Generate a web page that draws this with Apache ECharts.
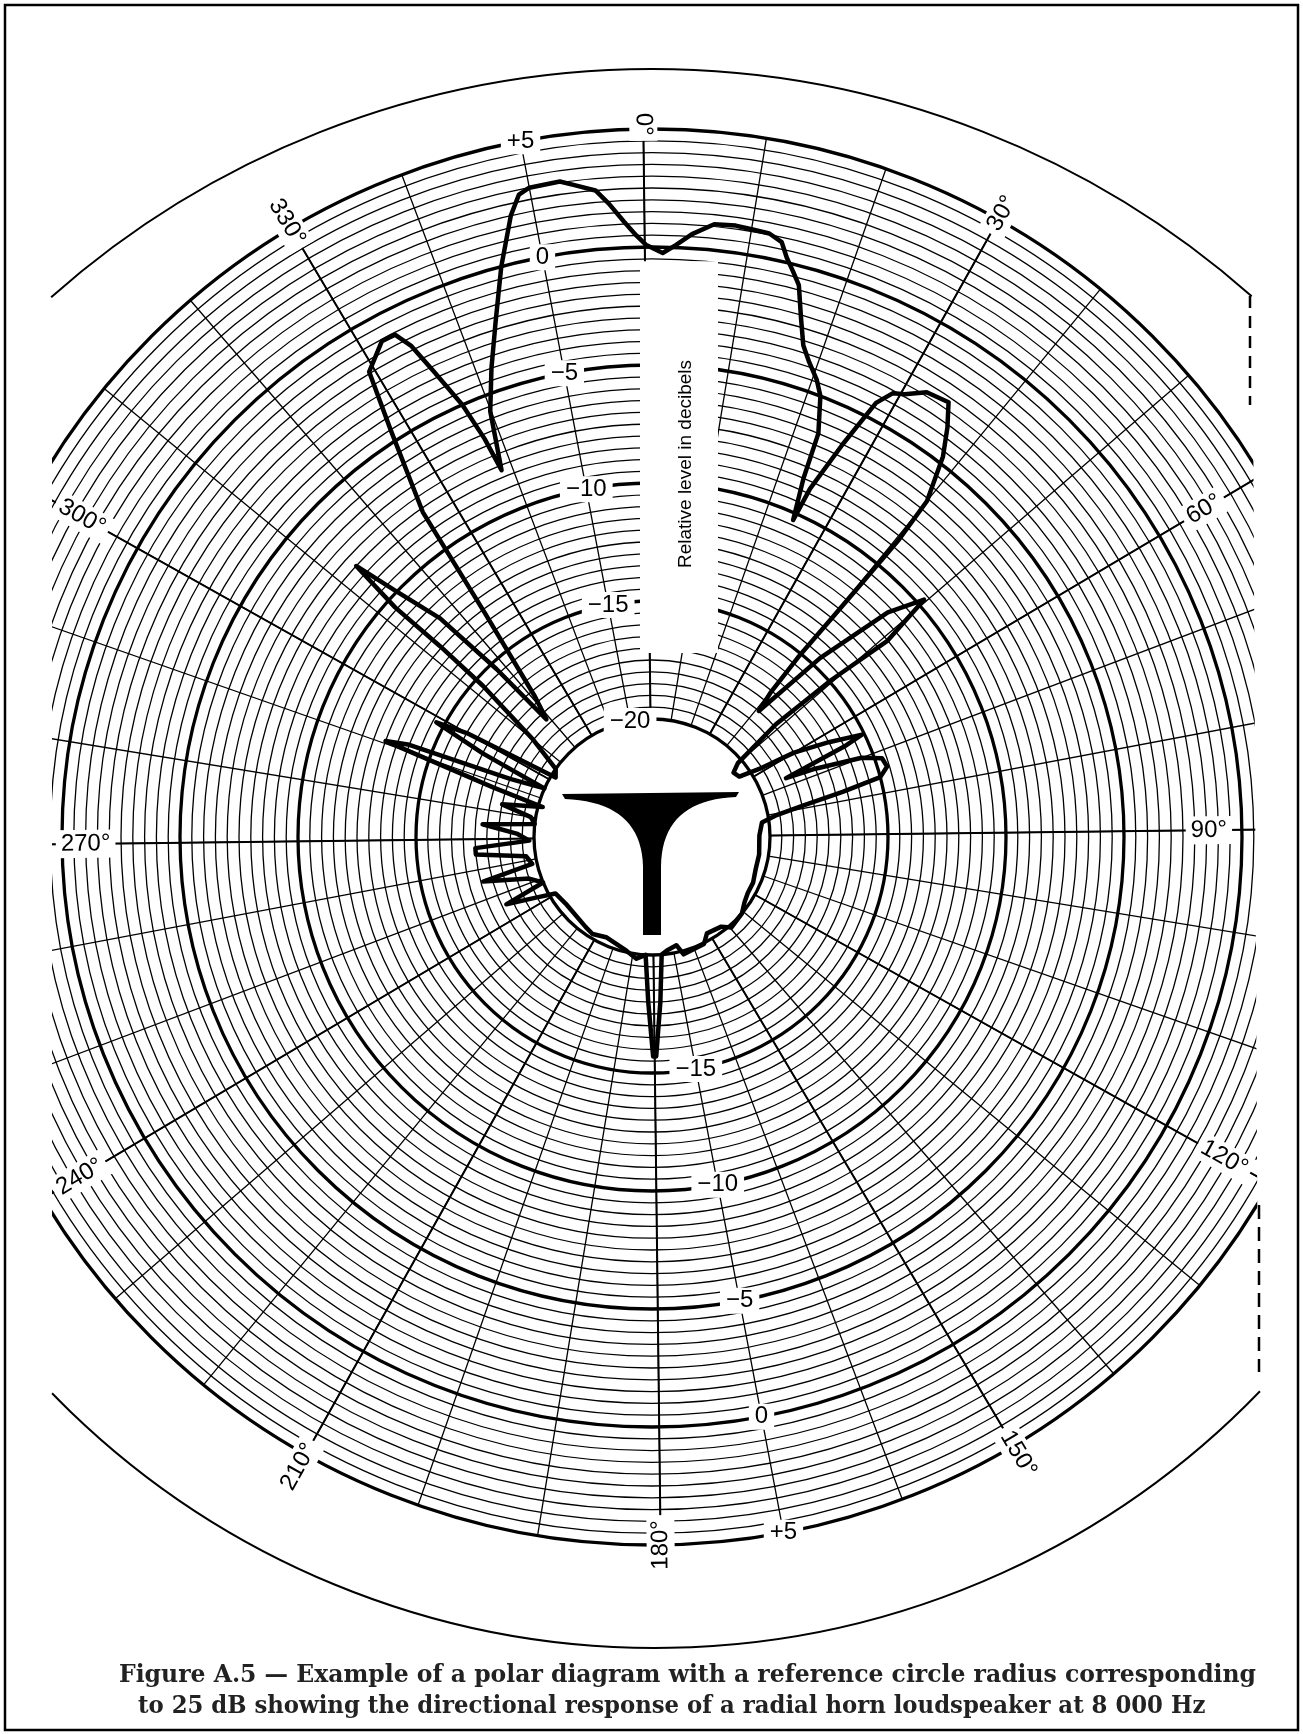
<!DOCTYPE html>
<html>
<head>
<meta charset="utf-8">
<script src="https://cdn.jsdelivr.net/npm/echarts@6/dist/echarts.min.js"></script>
<style>
  html, body { margin: 0; padding: 0; background: #fff; }
  #chart { width: 1303px; height: 1734px; }
</style>
</head>
<body>
<div id="chart"></div>
<script>
// ---- polar paper layout ----
const CX = 652, CY = 837;          // centre of the polar paper
const R_OUT = 708;                 // radius of the +5 dB ring
const DB_MIN = -25, DB_MAX = 5;    // the centre corresponds to -25 dB (reference circle = 25 dB)
const DB_GRID_MIN = -20;           // innermost printed ring
const PX_PER_DB = R_OUT / (DB_MAX - DB_MIN);
const R_IN = (DB_GRID_MIN - DB_MIN) * PX_PER_DB;
const ROT = 0.7;                   // sheet is turned slightly anticlockwise
const FONT = '"Liberation Sans", Arial, sans-serif';

// ---- measured directional response, 8 000 Hz ----
// angle in degrees (clockwise from 0°), relative level in dB
const responseAngle = [
  338.4, 339.9, 341.8, 343.8, 345.9, 347.9, 349.0, 350.0, 352.7, 354.0,
  355.7, 356.8, 358.1, 359.2, 0.1, 1.75, 3.0, 4.5, 6.5, 8.5,
  9.9, 11.7, 13.0, 13.8, 14.7, 15.6, 16.7, 17.8, 19.0, 20.5,
  21.6, 23.1, 23.6, 24.7, 25.1, 26.6, 28.0, 29.2, 30.4, 32.4,
  35.0, 36.5, 38.1, 40.0, 40.4, 40.3, 40.1, 39.8, 40.1, 41.0,
  43.9, 47.1, 49.6, 50.9, 49.5, 48.4, 50.0, 52.4, 56.0, 58.5,
  60.0, 62.5, 64.7, 65.5, 67.0, 68.0, 70.0, 71.8, 74.0, 76.0,
  77.4, 79.0, 80.9, 83.2, 90, 100, 108, 115, 121, 126,
  131, 139.5, 143, 151, 154.8, 165.6, 168, 173.2, 176, 177.8,
  179.6, 180.4, 182.0, 183.8, 188, 193.4, 205.3, 212.2, 217, 233.1,
  240.4, 243, 245.9, 248, 252, 255.9, 258, 262, 265, 267.1,
  269, 272, 275, 277, 280, 283, 286, 288, 290.5, 291.5,
  293, 295, 297, 298.7, 300, 302.4, 306, 310, 312.5, 312.7,
  312.5, 313.2, 314.5, 316.6, 317.9, 318.8, 320.9, 324, 325.5, 328,
  329.4, 332.1, 333.6, 334.6, 335.6, 337, 337.9, 338.4
];
const responseLevel = [
  -8.2, -5.7, -4.0, -2.2, 0.0, 2.0, 2.8, 3.0, 3.05, 2.8,
  2.5, 1.9, 1.1, 0.5, 0.1, -0.25, 0.1, 0.6, 1.1, 1.15,
  1.1, 1.05, 0.8, 0.2, -0.3, -0.8, -2.1, -3.2, -3.8, -4.4,
  -5.0, -6.5, -8.5, -10.3, -8.8, -6.5, -4.3, -3.6, -3.4, -2.85,
  -2.7, -3.6, -4.7, -6.6, -8.6, -10.8, -13.0, -15.2, -17.1, -18.0,
  -14.6, -11.2, -9.7, -12.0, -14.9, -17.9, -20.2, -20.6, -20.5, -19.5,
  -18.0, -16.5, -15.1, -16.0, -18.8, -17.5, -15.5, -14.7, -14.6, -15.0,
  -16.7, -18.5, -19.7, -20.3, -20.45, -20.4, -20.4, -20.3, -20.3, -20.2,
  -20.0, -19.9, -20.2, -20.3, -19.96, -19.85, -20.3, -20.15, -20.0, -18.0,
  -15.7, -15.7, -18.0, -20.0, -19.8, -20.06, -20.33, -20.18, -20.26, -20.38,
  -20.26, -19.5, -18.2, -20.0, -19.5, -17.6, -19.8, -19.6, -17.5, -17.5,
  -19.8, -19.3, -17.8, -20.0, -19.8, -18.5, -20.2, -18.0, -13.0, -14.0,
  -18.5, -20.0, -17.0, -14.65, -16.0, -20.2, -20.0, -18.5, -15.4, -12.9,
  -10.4, -8.0, -9.9, -12.1, -15.3, -18.3, -17.25, -13.1, -8.15, -4.5,
  -1.93, -1.08, -1.09, -1.84, -3.23, -5.0, -6.7, -8.2
];

// ---- scale annotations ----
const levelTicksUpper = [5, 0, -5, -10, -15, -20];     // along the 350° radius
const levelTicksLower = [-15, -10, -5, 0, 5];          // along the 170° radius
const angleTicks = [0, 30, 60, 90, 120, 150, 180, 210, 240, 270, 300, 330];
// ring (dB) on which each angle label sits; where the sheet is cut the label moves inwards
const angleTickRing = [5.2, 5.3, 2.2, -1.4, 2.8, 5.4, 5.0, 5.6, 3.2, -1.0, 2.7, 5.3];

function levelText(v) {
  if (v > 0) return '+' + v;
  if (v < 0) return '\u2212' + Math.abs(v);
  return '0';
}
function angleLabelRotation(a) {
  // right half reads outwards, left half (and 0°) reads inwards
  const r = (a > 0 && a < 180) ? 90 - a : 270 - a;
  return ((r + 540) % 360) - 180 + ROT;
}

const responseData = responseAngle.map((a, i) => [responseLevel[i], a]);

const tickLabelStyle = {
  show: true, position: 'inside', formatter: '{b}', opacity: 1,
  fontFamily: FONT, fontSize: 24, color: '#000',
  textBorderWidth: 0, textBorderColor: 'transparent',
  backgroundColor: '#fff', padding: [1, 6]
};

const upperTickData = levelTicksUpper.map(v => ({ name: levelText(v), value: [v, 350] }));
const lowerTickData = levelTicksLower.map(v => ({ name: levelText(v), value: [v, 170] }));
const angleTickData = angleTicks.map((a, i) => ({
  name: a + '\u00b0',
  value: [angleTickRing[i], a],
  label: { rotate: angleLabelRotation(a) }
}));

// horn symbol in the middle of the diagram
function quad(p0, c, p1, n) {
  const pts = [];
  for (let i = 0; i <= n; i++) {
    const t = i / n, u = 1 - t;
    pts.push([u * u * p0[0] + 2 * u * t * c[0] + t * t * p1[0],
              u * u * p0[1] + 2 * u * t * c[1] + t * t * p1[1]]);
  }
  return pts;
}
const hornPoints = [[CX - 90, CY - 43], [CX + 87, CY - 45]]
  .concat(quad([CX + 84, CY - 40], [CX + 10, CY - 37], [CX + 9, CY + 29], 20))
  .concat([[CX + 9, CY + 98], [CX - 9, CY + 98]])
  .concat(quad([CX - 9, CY + 29], [CX - 11, CY - 35], [CX - 87, CY - 38], 20));

// blank strip that carries the axis title
const stripTop = CY - (-0.6 - DB_MIN) * PX_PER_DB;
const stripBottom = CY - (-17.2 - DB_MIN) * PX_PER_DB;

const hiddenAxis = {
  axisLine: { show: false }, axisTick: { show: false },
  axisLabel: { show: false }, splitLine: { show: false }
};
const scatterBase = {
  type: 'scatter', coordinateSystem: 'polar', polarIndex: 0, z: 7, clip: false,
  symbol: 'circle', symbolSize: 1, itemStyle: { color: '#fff', opacity: 1 },
  emphasis: { disabled: true }, silent: true
};

const captionFont = 'bold 23.5px "DejaVu Serif", serif';

const option = {
  animation: false,
  backgroundColor: '#fff',
  polar: [
    { center: [CX, CY], radius: [0, R_OUT] },        // data
    { center: [CX, CY], radius: [R_IN, R_OUT] },     // printed rings + 10° radii
    { center: [CX, CY], radius: [R_IN, R_OUT] }      // heavier 30° radii
  ],
  angleAxis: [
    Object.assign({ polarIndex: 0, type: 'value', min: 0, max: 360, startAngle: 90 + ROT, clockwise: true }, hiddenAxis),
    {
      polarIndex: 1, type: 'value', min: 0, max: 360, interval: 10,
      startAngle: 90 + ROT, clockwise: true, z: 1,
      axisLine: { show: false }, axisTick: { show: false }, axisLabel: { show: false },
      splitLine: { show: true, lineStyle: { color: '#000', width: 1.3 } }
    },
    {
      polarIndex: 2, type: 'value', min: 0, max: 360, interval: 30,
      startAngle: 90 + ROT, clockwise: true, z: 1,
      axisLine: { show: false }, axisTick: { show: false }, axisLabel: { show: false },
      splitLine: { show: true, lineStyle: { color: '#000', width: 2 } }
    }
  ],
  radiusAxis: [
    Object.assign({ polarIndex: 0, type: 'value', min: DB_MIN, max: DB_MAX }, hiddenAxis),
    {
      polarIndex: 1, type: 'value', min: DB_GRID_MIN, max: DB_MAX, interval: 5, z: 1,
      axisLine: { show: false }, axisTick: { show: false }, axisLabel: { show: false },
      splitLine: { show: true, lineStyle: { color: '#000', width: 3.3 } },
      minorTick: { show: false, splitNumber: 10 },
      minorSplitLine: { show: true, lineStyle: { color: '#000', width: 1.3 } }
    },
    Object.assign({ polarIndex: 2, type: 'value', min: DB_GRID_MIN, max: DB_MAX }, hiddenAxis)
  ],
  series: [
    {
      type: 'line', coordinateSystem: 'polar', polarIndex: 0,
      data: responseData, symbol: 'none', clip: false, z: 5,
      lineStyle: { color: '#000', width: 4.5, join: 'round', cap: 'round' }
    },
    Object.assign({ label: tickLabelStyle, data: upperTickData }, scatterBase),
    Object.assign({ label: tickLabelStyle, data: lowerTickData }, scatterBase),
    Object.assign({ label: Object.assign({}, tickLabelStyle, { padding: [2, 5] }), data: angleTickData }, scatterBase)
  ],
  graphic: { elements: [
    { type: 'rect', z: 3, shape: { x: CX - 12, y: stripTop, width: 78, height: stripBottom - stripTop },
      style: { fill: '#fff' } },
    { type: 'text', z: 8, x: CX + 34, y: 464, rotation: Math.PI / 2,
      style: { text: 'Relative level in decibels', font: '19px ' + FONT, fill: '#000',
               textAlign: 'center', textVerticalAlign: 'middle' } },
    { type: 'polygon', z: 8, shape: { points: hornPoints }, style: { fill: '#000' } },
    // sheet trimmed at both sides
    { type: 'rect', z: 20, shape: { x: 0, y: 0, width: 52, height: 1734 }, style: { fill: '#fff' } },
    { type: 'polygon', z: 20, shape: { points: [[1251, 0], [1303, 0], [1303, 1734], [1260, 1734], [1251, 0]] },
      style: { fill: '#fff' } },
    // sheet outline
    { type: 'arc', z: 21, shape: { cx: 652, cy: 974, r: 905, startAngle: -131.6 * Math.PI / 180, endAngle: -48.5 * Math.PI / 180, clockwise: true },
      style: { stroke: '#000', lineWidth: 2, fill: null } },
    { type: 'arc', z: 21, shape: { cx: 655, cy: 807, r: 841, startAngle: 44.0 * Math.PI / 180, endAngle: 135.8 * Math.PI / 180, clockwise: true },
      style: { stroke: '#000', lineWidth: 2, fill: null } },
    { type: 'line', z: 21, shape: { x1: 1250, y1: 296, x2: 1250, y2: 405 },
      style: { stroke: '#000', lineWidth: 2.5, lineDash: [12, 8] } },
    { type: 'line', z: 21, shape: { x1: 1259, y1: 1205, x2: 1259, y2: 1372 },
      style: { stroke: '#000', lineWidth: 2.5, lineDash: [14, 8] } },
    // frame and caption
    { type: 'rect', z: 22, shape: { x: 5, y: 5, width: 1293, height: 1725 },
      style: { fill: null, stroke: '#000', lineWidth: 2.5 } },
    { type: 'text', z: 22, x: 119, y: 1676,
      style: { text: 'Figure A.5 \u2014 Example of a polar diagram with a reference circle radius corresponding',
               font: captionFont, fill: '#222', textAlign: 'left', textVerticalAlign: 'middle' } },
    { type: 'text', z: 22, x: 138, y: 1707, scaleX: 0.97,
      style: { text: 'to 25 dB showing the directional response of a radial horn loudspeaker at 8 000 Hz',
               font: captionFont, fill: '#222', textAlign: 'left', textVerticalAlign: 'middle' } }
  ] }
};

const chart = echarts.init(document.getElementById('chart'));
chart.setOption(option);
</script>
</body>
</html>
